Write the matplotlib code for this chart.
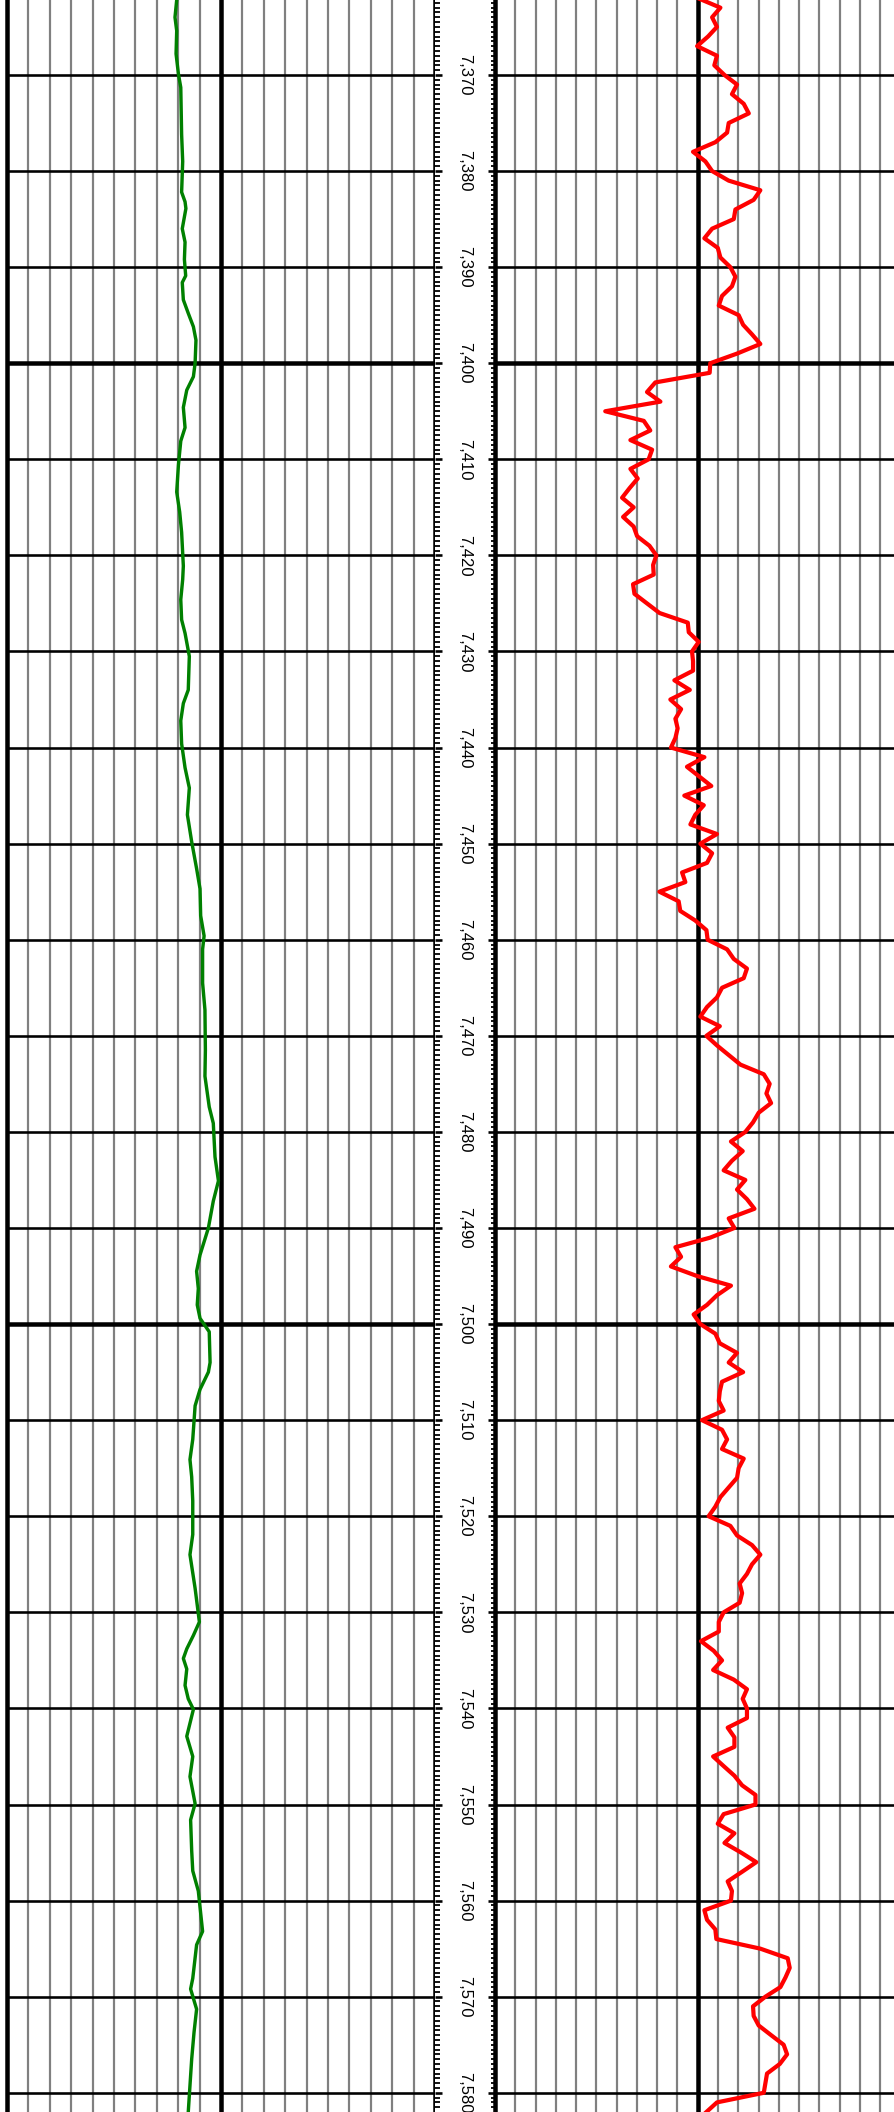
import numpy as np
import matplotlib
matplotlib.use('Agg')
import matplotlib.pyplot as plt
from matplotlib.transforms import blended_transform_factory

# depth window shown in the picture (ft)
top_depth = 7362.2
base_depth = 7582.0

# green curve, left track (scale 0 - 200)
gr_depth = [7362.2, 7364.0, 7365.4, 7367.8, 7369.9, 7371.3, 7376.2, 7379.0, 7382.2, 7383.2,
            7383.9, 7386.0, 7387.4, 7389.2, 7390.9, 7391.6, 7393.4, 7394.8, 7396.2, 7397.6,
            7400.0, 7401.4, 7402.8, 7404.6, 7406.7, 7408.1, 7410.6, 7413.4, 7415.5, 7417.6,
            7421.1, 7422.5, 7424.6, 7426.7, 7428.1, 7430.5, 7434.0, 7435.4, 7437.2, 7439.6,
            7442.1, 7444.2, 7447.0, 7449.8, 7452.6, 7454.7, 7457.5, 7459.6, 7461.0, 7464.5,
            7467.3, 7471.5, 7474.2, 7477.4, 7479.1, 7482.6, 7485.1, 7487.2, 7490.0, 7492.8,
            7494.5, 7496.3, 7498.0, 7499.4, 7500.8, 7504.0, 7505.0, 7506.8, 7508.5, 7512.0,
            7514.1, 7515.9, 7518.4, 7521.9, 7524.0, 7527.5, 7531.0, 7532.4, 7533.8, 7534.8,
            7535.9, 7537.6, 7539.0, 7540.1, 7542.9, 7545.0, 7547.1, 7549.9, 7551.6, 7554.8,
            7556.9, 7559.0, 7563.2, 7564.6, 7568.1, 7569.2, 7571.3, 7573.7, 7576.5, 7582.0]
gr_value = [79.3, 78.5, 79.3, 79.0, 80.1, 81.2, 81.6, 82.1, 81.6, 83.2,
            83.6, 81.9, 83.2, 82.9, 83.5, 81.9, 82.4, 84.7, 87.1, 88.3,
            87.9, 87.1, 84.0, 82.4, 83.2, 81.2, 80.1, 79.3, 80.7, 81.6,
            82.4, 82.1, 81.2, 81.6, 83.2, 85.2, 84.7, 82.4, 81.2, 81.6,
            83.2, 85.2, 84.3, 86.3, 88.6, 90.2, 90.5, 92.1, 91.4, 91.4,
            92.5, 92.7, 92.5, 94.5, 96.4, 97.2, 98.8, 96.4, 94.1, 90.2,
            88.6, 89.4, 88.9, 90.2, 94.5, 94.9, 94.1, 90.2, 87.9, 86.8,
            85.5, 86.3, 86.8, 86.8, 85.5, 87.9, 89.9, 87.1, 84.0, 82.4,
            84.0, 83.2, 84.7, 87.1, 84.0, 86.8, 85.5, 87.9, 85.8, 86.3,
            86.8, 89.4, 91.4, 88.6, 86.8, 85.8, 88.6, 87.4, 86.3, 84.7]

# red curve, right track (scale -100 - 100), one sample per foot
sp_first_depth = 7362
sp_value = [0.0, 11.2, 7.1, 9.5, 5.1, -0.3, 9.5, 8.2, 13.2, 19.4,
            16.9, 22.7, 25.2, 15.3, 14.5, 8.7, -2.3, 3.8, 7.1, 15.3,
            30.9, 27.6, 18.6, 17.8, 7.1, 3.3, 9.9, 11.2, 16.1, 18.6,
            16.9, 12.0, 10.4, 20.2, 22.4, 26.8, 30.9, 19.4, 6.2, 5.9,
            -20.9, -25.0, -18.4, -45.6, -26.6, -23.4, -33.2, -22.5, -24.2, -33.2,
            -29.6, -33.6, -37.3, -31.6, -36.8, -31.6, -29.9, -23.8, -20.4, -22.0,
            -21.7, -31.9, -31.2, -25.0, -18.8, -4.9, -4.4, 0.5, -2.8, -2.3,
            -2.3, -11.5, -3.9, -13.5, -8.2, -11.0, -9.9, -11.0, -13.2, 3.3,
            -5.3, 0.7, 6.7, -6.6, 3.0, -1.2, -3.6, 9.5, 1.3, 7.1,
            4.6, -7.7, -6.1, -18.9, -9.4, -8.6, -1.2, 4.3, 4.9, 14.5,
            17.8, 24.3, 22.7, 12.0, 9.5, 4.6, 1.3, 10.9, 4.3, 9.5,
            15.3, 21.1, 32.6, 35.5, 33.9, 36.2, 30.1, 27.3, 23.5, 16.4,
            22.2, 16.9, 12.8, 23.5, 19.4, 24.3, 28.0, 15.3, 18.1, 6.2,
            -11.0, -8.2, -13.2, -0.3, 16.4, 9.5, 4.6, -2.0, 1.3, 8.7,
            10.9, 19.4, 15.3, 22.4, 12.0, 10.9, 10.4, 12.8, 2.1, 12.0,
            14.5, 12.0, 22.7, 20.2, 19.4, 15.3, 11.2, 8.7, 5.4, 16.1,
            19.4, 26.8, 30.9, 26.8, 24.3, 20.7, 21.9, 20.7, 12.8, 10.4,
            10.4, 1.6, 7.9, 12.0, 7.6, 17.8, 24.3, 22.2, 24.3, 24.3,
            14.8, 18.1, 18.1, 7.6, 12.8, 18.1, 21.9, 28.5, 28.5, 12.8,
            9.9, 18.1, 13.2, 21.4, 28.9, 21.9, 14.8, 16.9, 16.4, 3.3,
            4.6, 8.7, 9.2, 30.9, 44.4, 45.4, 43.3, 40.8, 33.4, 27.3,
            27.6, 30.1, 36.2, 42.4, 44.1, 40.5, 34.2, 33.4, 32.6, 9.5,
            4.3]

depth_labels = [7370, 7380, 7390, 7400, 7410, 7420, 7430, 7440, 7450, 7460, 7470,
                7480, 7490, 7500, 7510, 7520, 7530, 7540, 7550, 7560, 7570, 7580]

PX = 72.0 / 100.0  # points per pixel at dpi 100
W = 895.0

fig = plt.figure(figsize=(8.95, 21.12), dpi=100)
ax_l = fig.add_axes([7 / W, 0, 428 / W, 1])
ax_d = fig.add_axes([435 / W, 0, 60 / W, 1])
ax_r = fig.add_axes([495 / W, 0, 405.4 / W, 1])


def draw_grid(ax, lo, hi, centre):
    ax.set_xlim(lo, hi)
    ax.set_ylim(base_depth, top_depth)
    for x in np.linspace(lo, hi, 21):
        if x == centre:
            ax.axvline(x, color='black', lw=4.5 * PX, zorder=2)
        else:
            ax.axvline(x, color='#808080', lw=2.2 * PX, zorder=1)
    for d in depth_labels:
        ax.axhline(d, color='black', lw=(4.5 if d % 100 == 0 else 2.6) * PX, zorder=3)
    ax.set_xticks([])
    ax.set_yticks([])
    for s in ['top', 'bottom']:
        ax.spines[s].set_visible(False)
    for s in ['left', 'right']:
        ax.spines[s].set_linewidth(4.5 * PX)
        ax.spines[s].set_zorder(4)


draw_grid(ax_l, 0, 200, 100)
draw_grid(ax_r, -100, 100, 0)

ax_l.plot(gr_value, gr_depth, color='#008000', lw=3.4 * PX, zorder=5)
sp_depth = np.arange(sp_first_depth, sp_first_depth + len(sp_value))
ax_r.plot(sp_value, sp_depth, color='red', lw=4.2 * PX, zorder=5)

# depth track
ax_d.set_ylim(base_depth, top_depth)
ax_d.set_xlim(0, 1)
for s in ax_d.spines.values():
    s.set_visible(False)
ax_d.set_xticks([])
ax_d.set_yticks(depth_labels)
ax_d.set_yticks(np.arange(7362.5, 7582, 0.5), minor=True)
ax_d.tick_params(axis='y', which='major', left=True, right=True, direction='in',
                 length=7 * PX, width=2.6 * PX, labelleft=False)
ax_d.tick_params(axis='y', which='minor', left=True, right=True, direction='in',
                 length=4.5 * PX, width=1.8 * PX)
tr = blended_transform_factory(ax_d.transAxes, ax_d.transData)
for d in depth_labels:
    ax_d.text(0.5, d, f"{d:,}", rotation=270, ha='center', va='center',
              transform=tr, fontsize=12, family='Liberation Sans', color='black')

fig.savefig('out.png', dpi=100)
